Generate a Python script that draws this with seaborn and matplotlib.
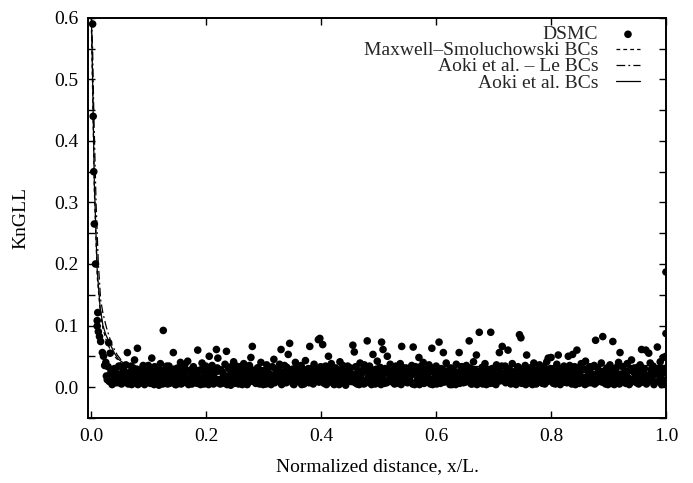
import matplotlib
matplotlib.use("Agg")
import matplotlib.pyplot as plt
import seaborn as sns
import pandas as pd
from matplotlib.ticker import MultipleLocator, FormatStrFormatter

# ---------------- data ----------------
# DSMC points close to the walls
wall_x = [0.002, 0.003, 0.004, 0.005, 0.007, 0.011, 0.010, 0.010, 0.012, 0.014,
          0.016, 0.019, 0.021, 0.023, 1.0, 1.0]
wall_y = [0.59, 0.44, 0.35, 0.265, 0.20, 0.121, 0.108, 0.099, 0.090, 0.082,
          0.074, 0.056, 0.050, 0.035, 0.187, 0.050]

# DSMC points in the bulk (first set)
bulk_x = [
    0.025, 0.0275, 0.03, 0.0325, 0.035, 0.0375, 0.04, 0.0425, 0.045, 0.0475,
    0.05, 0.0525, 0.055, 0.0575, 0.06, 0.0625, 0.065, 0.0675, 0.07, 0.0725,
    0.075, 0.0775, 0.08, 0.0825, 0.085, 0.0875, 0.09, 0.0925, 0.095, 0.0975,
    0.1, 0.1025, 0.105, 0.1075, 0.11, 0.1125, 0.115, 0.1175, 0.12, 0.1225,
    0.125, 0.1275, 0.13, 0.1325, 0.135, 0.1375, 0.14, 0.1425, 0.145, 0.1475,
    0.15, 0.1525, 0.155, 0.1575, 0.16, 0.1625, 0.165, 0.1675, 0.17, 0.1725,
    0.175, 0.1775, 0.18, 0.1825, 0.185, 0.1875, 0.19, 0.1925, 0.195, 0.1975,
    0.2, 0.2025, 0.205, 0.2075, 0.21, 0.2125, 0.215, 0.2175, 0.22, 0.2225,
    0.225, 0.2275, 0.23, 0.2325, 0.235, 0.2375, 0.24, 0.2425, 0.245, 0.2475,
    0.25, 0.2525, 0.255, 0.2575, 0.26, 0.2625, 0.265, 0.2675, 0.27, 0.2725,
    0.275, 0.2775, 0.28, 0.2825, 0.285, 0.2875, 0.29, 0.2925, 0.295, 0.2975,
    0.3, 0.3025, 0.305, 0.3075, 0.31, 0.3125, 0.315, 0.3175, 0.32, 0.3225,
    0.325, 0.3275, 0.33, 0.3325, 0.335, 0.3375, 0.34, 0.3425, 0.345, 0.3475,
    0.35, 0.3525, 0.355, 0.3575, 0.36, 0.3625, 0.365, 0.3675, 0.37, 0.3725,
    0.375, 0.3775, 0.38, 0.3825, 0.385, 0.3875, 0.39, 0.3925, 0.395, 0.3975,
    0.4, 0.4025, 0.405, 0.4075, 0.41, 0.4125, 0.415, 0.4175, 0.42, 0.4225,
    0.425, 0.4275, 0.43, 0.4325, 0.435, 0.4375, 0.44, 0.4425, 0.445, 0.4475,
    0.45, 0.4525, 0.455, 0.4575, 0.46, 0.4625, 0.465, 0.4675, 0.47, 0.4725,
    0.475, 0.4775, 0.48, 0.4825, 0.485, 0.4875, 0.49, 0.4925, 0.495, 0.4975,
    0.5, 0.5025, 0.505, 0.5075, 0.51, 0.5125, 0.515, 0.5175, 0.52, 0.5225,
    0.525, 0.5275, 0.53, 0.5325, 0.535, 0.5375, 0.54, 0.5425, 0.545, 0.5475,
    0.55, 0.5525, 0.555, 0.5575, 0.56, 0.5625, 0.565, 0.5675, 0.57, 0.5725,
    0.575, 0.5775, 0.58, 0.5825, 0.585, 0.5875, 0.59, 0.5925, 0.595, 0.5975,
    0.6, 0.6025, 0.605, 0.6075, 0.61, 0.6125, 0.615, 0.6175, 0.62, 0.6225,
    0.625, 0.6275, 0.63, 0.6325, 0.635, 0.6375, 0.64, 0.6425, 0.645, 0.6475,
    0.65, 0.6525, 0.655, 0.6575, 0.66, 0.6625, 0.665, 0.6675, 0.67, 0.6725,
    0.675, 0.6775, 0.68, 0.6825, 0.685, 0.6875, 0.69, 0.6925, 0.695, 0.6975,
    0.7, 0.7025, 0.705, 0.7075, 0.71, 0.7125, 0.715, 0.7175, 0.72, 0.7225,
    0.725, 0.7275, 0.73, 0.7325, 0.735, 0.7375, 0.74, 0.7425, 0.745, 0.7475,
    0.75, 0.7525, 0.755, 0.7575, 0.76, 0.7625, 0.765, 0.7675, 0.77, 0.7725,
    0.775, 0.7775, 0.78, 0.7825, 0.785, 0.7875, 0.79, 0.7925, 0.795, 0.7975,
    0.8, 0.8025, 0.805, 0.8075, 0.81, 0.8125, 0.815, 0.8175, 0.82, 0.8225,
    0.825, 0.8275, 0.83, 0.8325, 0.835, 0.8375, 0.84, 0.8425, 0.845, 0.8475,
    0.85, 0.8525, 0.855, 0.8575, 0.86, 0.8625, 0.865, 0.8675, 0.87, 0.8725,
    0.875, 0.8775, 0.88, 0.8825, 0.885, 0.8875, 0.89, 0.8925, 0.895, 0.8975,
    0.9, 0.9025, 0.905, 0.9075, 0.91, 0.9125, 0.915, 0.9175, 0.92, 0.9225,
    0.925, 0.9275, 0.93, 0.9325, 0.935, 0.9375, 0.94, 0.9425, 0.945, 0.9475,
    0.95, 0.9525, 0.955, 0.9575, 0.96, 0.9625, 0.965, 0.9675, 0.97, 0.9725,
    0.975, 0.9775, 0.98, 0.9825, 0.985, 0.9875, 0.99, 0.9925, 0.995, 0.9975,
    1.0,
]
bulk_y = [
    0.040, 0.012, 0.072, 0.055, 0.022, 0.006, 0.030, 0.016, 0.008, 0.034,
    0.020, 0.005, 0.028, 0.012, 0.036, 0.056, 0.009, 0.024, 0.004, 0.031,
    0.044, 0.018, 0.063, 0.007, 0.026, 0.013, 0.035, 0.004, 0.021, 0.010,
    0.029, 0.006, 0.047, 0.017, 0.033, 0.008, 0.024, 0.003, 0.038, 0.014,
    0.092, 0.011, 0.027, 0.005, 0.034, 0.019, 0.009, 0.056, 0.023, 0.004,
    0.031, 0.013, 0.040, 0.006, 0.022, 0.036, 0.008, 0.042, 0.015, 0.026,
    0.005, 0.033, 0.018, 0.010, 0.060, 0.027, 0.004, 0.039, 0.014, 0.021,
    0.030, 0.008, 0.050, 0.016, 0.035, 0.005, 0.024, 0.061, 0.047, 0.012,
    0.028, 0.006, 0.019, 0.037, 0.058, 0.010, 0.032, 0.003, 0.022, 0.041,
    0.013, 0.034, 0.007, 0.025, 0.018, 0.004, 0.038, 0.011, 0.029, 0.020,
    0.035, 0.048, 0.066, 0.009, 0.023, 0.014, 0.031, 0.005, 0.040, 0.017,
    0.026, 0.008, 0.036, 0.012, 0.021, 0.004, 0.033, 0.045, 0.015, 0.028,
    0.010, 0.037, 0.061, 0.006, 0.024, 0.018, 0.032, 0.053, 0.071, 0.013,
    0.029, 0.004, 0.040, 0.016, 0.027, 0.009, 0.035, 0.020, 0.005, 0.043,
    0.014, 0.030, 0.066, 0.008, 0.025, 0.037, 0.011, 0.019, 0.077, 0.079,
    0.028, 0.069, 0.006, 0.034, 0.017, 0.050, 0.010, 0.038, 0.022, 0.004,
    0.031, 0.013, 0.026, 0.041, 0.007, 0.035, 0.019, 0.003, 0.029, 0.015,
    0.024, 0.009, 0.068, 0.057, 0.033, 0.005, 0.020, 0.039, 0.012, 0.027,
    0.036, 0.010, 0.075, 0.018, 0.030, 0.004, 0.053, 0.023, 0.008, 0.042,
    0.015, 0.032, 0.073, 0.061, 0.006, 0.026, 0.050, 0.011, 0.037, 0.020,
    0.029, 0.005, 0.034, 0.017, 0.009, 0.038, 0.066, 0.022, 0.013, 0.031,
    0.007, 0.027, 0.019, 0.035, 0.065, 0.004, 0.024, 0.012, 0.048, 0.033,
    0.016, 0.040, 0.008, 0.029, 0.021, 0.036, 0.005, 0.063, 0.025, 0.011,
    0.034, 0.014, 0.073, 0.006, 0.028, 0.056, 0.019, 0.039, 0.009, 0.023,
    0.031, 0.004, 0.026, 0.017, 0.037, 0.010, 0.056, 0.022, 0.033, 0.007,
    0.020, 0.035, 0.012, 0.075, 0.028, 0.005, 0.041, 0.016, 0.052, 0.025,
    0.089, 0.009, 0.032, 0.018, 0.038, 0.004, 0.024, 0.013, 0.089, 0.030,
    0.006, 0.027, 0.036, 0.015, 0.056, 0.021, 0.066, 0.010, 0.034, 0.019,
    0.060, 0.029, 0.005, 0.038, 0.016, 0.024, 0.011, 0.033, 0.085, 0.080,
    0.020, 0.008, 0.035, 0.052, 0.026, 0.013, 0.031, 0.004, 0.039, 0.018,
    0.027, 0.010, 0.036, 0.021, 0.006, 0.032, 0.015, 0.041, 0.047, 0.024,
    0.048, 0.012, 0.030, 0.005, 0.037, 0.052, 0.019, 0.028, 0.009, 0.034,
    0.022, 0.007, 0.050, 0.035, 0.014, 0.053, 0.026, 0.004, 0.060, 0.031,
    0.017, 0.038, 0.010, 0.029, 0.042, 0.006, 0.024, 0.033, 0.013, 0.020,
    0.035, 0.076, 0.008, 0.027, 0.016, 0.039, 0.082, 0.022, 0.005, 0.031,
    0.012, 0.036, 0.025, 0.074, 0.004, 0.029, 0.018, 0.040, 0.056, 0.010,
    0.033, 0.021, 0.006, 0.038, 0.014, 0.027, 0.044, 0.009, 0.031, 0.017,
    0.025, 0.005, 0.036, 0.061, 0.019, 0.030, 0.060, 0.011, 0.055, 0.039,
    0.015, 0.034, 0.008, 0.027, 0.065, 0.022, 0.041, 0.004, 0.048, 0.030,
    0.087,
]

# DSMC points in the bulk (second, interleaved set)
bulk2_x = [
    0.026, 0.029, 0.031, 0.034, 0.036, 0.039, 0.041, 0.044, 0.046, 0.049,
    0.051, 0.054, 0.056, 0.059, 0.061, 0.064, 0.066, 0.069, 0.071, 0.074,
    0.076, 0.079, 0.081, 0.084, 0.086, 0.089, 0.091, 0.094, 0.096, 0.099,
    0.101, 0.104, 0.106, 0.109, 0.111, 0.114, 0.116, 0.119, 0.121, 0.124,
    0.126, 0.129, 0.131, 0.134, 0.136, 0.139, 0.141, 0.144, 0.146, 0.149,
    0.151, 0.154, 0.156, 0.159, 0.161, 0.164, 0.166, 0.169, 0.171, 0.174,
    0.176, 0.179, 0.181, 0.184, 0.186, 0.189, 0.191, 0.194, 0.196, 0.199,
    0.201, 0.204, 0.206, 0.209, 0.211, 0.214, 0.216, 0.219, 0.221, 0.224,
    0.226, 0.229, 0.231, 0.234, 0.236, 0.239, 0.241, 0.244, 0.246, 0.249,
    0.251, 0.254, 0.256, 0.259, 0.261, 0.264, 0.266, 0.269, 0.271, 0.274,
    0.276, 0.279, 0.281, 0.284, 0.286, 0.289, 0.291, 0.294, 0.296, 0.299,
    0.301, 0.304, 0.306, 0.309, 0.311, 0.314, 0.316, 0.319, 0.321, 0.324,
    0.326, 0.329, 0.331, 0.334, 0.336, 0.339, 0.341, 0.344, 0.346, 0.349,
    0.351, 0.354, 0.356, 0.359, 0.361, 0.364, 0.366, 0.369, 0.371, 0.374,
    0.376, 0.379, 0.381, 0.384, 0.386, 0.389, 0.391, 0.394, 0.396, 0.399,
    0.401, 0.404, 0.406, 0.409, 0.411, 0.414, 0.416, 0.419, 0.421, 0.424,
    0.426, 0.429, 0.431, 0.434, 0.436, 0.439, 0.441, 0.444, 0.446, 0.449,
    0.451, 0.454, 0.456, 0.459, 0.461, 0.464, 0.466, 0.469, 0.471, 0.474,
    0.476, 0.479, 0.481, 0.484, 0.486, 0.489, 0.491, 0.494, 0.496, 0.499,
    0.501, 0.504, 0.506, 0.509, 0.511, 0.514, 0.516, 0.519, 0.521, 0.524,
    0.526, 0.529, 0.531, 0.534, 0.536, 0.539, 0.541, 0.544, 0.546, 0.549,
    0.551, 0.554, 0.556, 0.559, 0.561, 0.564, 0.566, 0.569, 0.571, 0.574,
    0.576, 0.579, 0.581, 0.584, 0.586, 0.589, 0.591, 0.594, 0.596, 0.599,
    0.601, 0.604, 0.606, 0.609, 0.611, 0.614, 0.616, 0.619, 0.621, 0.624,
    0.626, 0.629, 0.631, 0.634, 0.636, 0.639, 0.641, 0.644, 0.646, 0.649,
    0.651, 0.654, 0.656, 0.659, 0.661, 0.664, 0.666, 0.669, 0.671, 0.674,
    0.676, 0.679, 0.681, 0.684, 0.686, 0.689, 0.691, 0.694, 0.696, 0.699,
    0.701, 0.704, 0.706, 0.709, 0.711, 0.714, 0.716, 0.719, 0.721, 0.724,
    0.726, 0.729, 0.731, 0.734, 0.736, 0.739, 0.741, 0.744, 0.746, 0.749,
    0.751, 0.754, 0.756, 0.759, 0.761, 0.764, 0.766, 0.769, 0.771, 0.774,
    0.776, 0.779, 0.781, 0.784, 0.786, 0.789, 0.791, 0.794, 0.796, 0.799,
    0.801, 0.804, 0.806, 0.809, 0.811, 0.814, 0.816, 0.819, 0.821, 0.824,
    0.826, 0.829, 0.831, 0.834, 0.836, 0.839, 0.841, 0.844, 0.846, 0.849,
    0.851, 0.854, 0.856, 0.859, 0.861, 0.864, 0.866, 0.869, 0.871, 0.874,
    0.876, 0.879, 0.881, 0.884, 0.886, 0.889, 0.891, 0.894, 0.896, 0.899,
    0.901, 0.904, 0.906, 0.909, 0.911, 0.914, 0.916, 0.919, 0.921, 0.924,
    0.926, 0.929, 0.931, 0.934, 0.936, 0.939, 0.941, 0.944, 0.946, 0.949,
    0.951, 0.954, 0.956, 0.959, 0.961, 0.964, 0.966, 0.969, 0.971, 0.974,
    0.976, 0.979, 0.981, 0.984, 0.986, 0.989, 0.991, 0.994, 0.996, 0.999,
]
bulk2_y = [
    0.018, 0.033, 0.009, 0.025, 0.004, 0.014, 0.028, 0.007, 0.021, 0.012,
    0.006, 0.015, 0.032, 0.010, 0.023, 0.005, 0.017, 0.034, 0.008, 0.026,
    0.013, 0.029, 0.004, 0.019, 0.011, 0.031, 0.006, 0.024, 0.016, 0.035,
    0.009, 0.021, 0.014, 0.004, 0.030, 0.011, 0.018, 0.007, 0.027, 0.005,
    0.022, 0.008, 0.034, 0.013, 0.006, 0.025, 0.015, 0.029, 0.004, 0.018,
    0.010, 0.026, 0.005, 0.020, 0.032, 0.012, 0.027, 0.004, 0.016, 0.009,
    0.030, 0.014, 0.022, 0.006, 0.017, 0.009, 0.028, 0.012, 0.005, 0.034,
    0.019, 0.004, 0.027, 0.011, 0.021, 0.015, 0.007, 0.031, 0.026, 0.005,
    0.012, 0.023, 0.008, 0.016, 0.004, 0.030, 0.019, 0.010, 0.035, 0.006,
    0.026, 0.017, 0.005, 0.033, 0.012, 0.024, 0.008, 0.020, 0.004, 0.014,
    0.009, 0.028, 0.015, 0.022, 0.006, 0.031, 0.011, 0.018, 0.025, 0.004,
    0.016, 0.005, 0.024, 0.032, 0.009, 0.019, 0.013, 0.007, 0.028, 0.021,
    0.029, 0.011, 0.004, 0.018, 0.035, 0.007, 0.022, 0.015, 0.010, 0.026,
    0.005, 0.020, 0.031, 0.009, 0.014, 0.025, 0.004, 0.028, 0.017, 0.011,
    0.023, 0.007, 0.016, 0.030, 0.005, 0.012, 0.027, 0.021, 0.008, 0.033,
    0.013, 0.019, 0.026, 0.004, 0.022, 0.009, 0.031, 0.015, 0.006, 0.018,
    0.008, 0.024, 0.004, 0.017, 0.028, 0.012, 0.006, 0.021, 0.034, 0.010,
    0.031, 0.015, 0.020, 0.007, 0.011, 0.026, 0.004, 0.017, 0.023, 0.005,
    0.006, 0.027, 0.013, 0.034, 0.009, 0.019, 0.014, 0.005, 0.029, 0.016,
    0.024, 0.004, 0.018, 0.011, 0.030, 0.007, 0.022, 0.027, 0.013, 0.008,
    0.010, 0.020, 0.006, 0.025, 0.014, 0.004, 0.032, 0.009, 0.019, 0.028,
    0.017, 0.012, 0.029, 0.005, 0.021, 0.033, 0.008, 0.016, 0.004, 0.023,
    0.027, 0.006, 0.015, 0.020, 0.010, 0.025, 0.013, 0.004, 0.031, 0.018,
    0.005, 0.022, 0.011, 0.030, 0.017, 0.008, 0.026, 0.014, 0.021, 0.004,
    0.019, 0.028, 0.009, 0.004, 0.024, 0.015, 0.006, 0.033, 0.012, 0.025,
    0.008, 0.013, 0.024, 0.031, 0.005, 0.018, 0.010, 0.027, 0.004, 0.020,
    0.022, 0.016, 0.005, 0.012, 0.029, 0.008, 0.019, 0.006, 0.025, 0.014,
    0.030, 0.004, 0.020, 0.026, 0.010, 0.034, 0.013, 0.023, 0.007, 0.016,
    0.011, 0.018, 0.025, 0.007, 0.021, 0.004, 0.029, 0.015, 0.019, 0.006,
    0.028, 0.014, 0.004, 0.023, 0.009, 0.031, 0.017, 0.012, 0.026, 0.005,
    0.007, 0.025, 0.019, 0.013, 0.033, 0.005, 0.022, 0.009, 0.015, 0.030,
    0.021, 0.006, 0.027, 0.017, 0.011, 0.024, 0.004, 0.030, 0.014, 0.008,
    0.014, 0.030, 0.009, 0.022, 0.005, 0.018, 0.033, 0.012, 0.020, 0.006,
    0.026, 0.010, 0.016, 0.004, 0.028, 0.013, 0.021, 0.007, 0.032, 0.015,
    0.005, 0.020, 0.031, 0.012, 0.024, 0.008, 0.017, 0.027, 0.011, 0.004,
    0.023, 0.015, 0.006, 0.029, 0.018, 0.010, 0.034, 0.005, 0.021, 0.013,
    0.009, 0.026, 0.019, 0.014, 0.004, 0.030, 0.011, 0.024, 0.016, 0.007,
    0.032, 0.012, 0.022, 0.008, 0.027, 0.015, 0.005, 0.019, 0.010, 0.028,
    0.017, 0.004, 0.025, 0.021, 0.009, 0.031, 0.014, 0.006, 0.023, 0.011,
]

# model curves
ms_x = [0.0, 0.002, 0.005, 0.01, 0.015, 0.02, 0.025, 0.03, 0.04, 0.05, 0.06, 0.08,
        0.1, 0.2, 0.4, 0.6, 0.8, 1.0]
ms_y = [0.58, 0.48, 0.32, 0.18, 0.125, 0.095, 0.078, 0.066, 0.050, 0.040, 0.034,
        0.030, 0.029, 0.028, 0.028, 0.029, 0.029, 0.030]
le_x = [0.0, 0.002, 0.004, 0.008, 0.012, 0.016, 0.02, 0.026, 0.035, 0.045, 0.055,
        0.07, 0.09, 0.12, 0.2, 0.4, 0.6, 0.8, 1.0]
le_y = [0.60, 0.55, 0.45, 0.30, 0.20, 0.142, 0.12, 0.097, 0.070, 0.052, 0.040,
        0.031, 0.026, 0.024, 0.023, 0.023, 0.024, 0.024, 0.025]
ak_x = [0.0, 0.002, 0.005, 0.01, 0.015, 0.02, 0.025, 0.033, 0.04, 0.047, 0.059,
        0.07, 0.08, 0.1, 0.2, 0.4, 0.6, 0.8, 1.0]
ak_y = [0.60, 0.50, 0.33, 0.19, 0.13, 0.10, 0.085, 0.069, 0.055, 0.045, 0.037,
        0.034, 0.032, 0.031, 0.031, 0.032, 0.033, 0.034, 0.035]

labels = ["DSMC", "Maxwell\u2013Smoluchowski BCs", "Aoki et al. \u2013 Le BCs", "Aoki et al. BCs"]
xlabel = "Normalized distance, x/L."
ylabel = "KnGLL"

assert len(bulk_x) == len(bulk_y)
assert len(bulk2_x) == len(bulk2_y)

# ---------------- plot ----------------
sns.set_theme(style="ticks")
plt.rcParams['font.family'] = ['Liberation Serif', 'DejaVu Serif']

dsmc = pd.DataFrame({"x": wall_x + bulk_x + bulk2_x,
                     "y": wall_y + bulk_y + bulk2_y})

fig = plt.figure(figsize=(6.93, 4.83), dpi=100)
ax = fig.add_axes([0.127, 0.135, 0.834, 0.828])

sns.scatterplot(data=dsmc, x="x", y="y", ax=ax, color="black", s=30,
                edgecolor="none", linewidth=0, label=labels[0], zorder=2)
sns.lineplot(x=ms_x, y=ms_y, ax=ax, color="black", lw=0.9, sort=False,
             estimator=None, label=labels[1], zorder=3)
sns.lineplot(x=le_x, y=le_y, ax=ax, color="black", lw=0.9, sort=False,
             estimator=None, label=labels[2], zorder=3)
sns.lineplot(x=ak_x, y=ak_y, ax=ax, color="black", lw=0.9, sort=False,
             estimator=None, label=labels[3], zorder=3)
ax.lines[0].set_dashes((3, 2.5))
ax.lines[1].set_dashes((7, 2.5, 1.5, 2.5))

ax.set_xlim(-0.006, 1.0)
ax.set_ylim(-0.05, 0.6)
ax.xaxis.set_major_locator(MultipleLocator(0.2))
ax.yaxis.set_major_locator(MultipleLocator(0.1))
ax.yaxis.set_minor_locator(MultipleLocator(0.05))
ax.xaxis.set_major_formatter(FormatStrFormatter("%.1f"))
ax.yaxis.set_major_formatter(FormatStrFormatter("%.1f"))
ax.tick_params(which="both", direction="in", top=True, right=True,
               length=5, width=1, labelsize=14, color="black", labelcolor="black", pad=7)
for sp in ax.spines.values():
    sp.set_visible(True)
    sp.set_color("black")
    sp.set_linewidth(1.4)

ax.set_xlabel(xlabel, fontsize=14, color="black", labelpad=10)
ax.set_ylabel(ylabel, fontsize=14, color="black", labelpad=18)

h, l = ax.get_legend_handles_labels()
leg = ax.legend(h, l, loc="upper right", bbox_to_anchor=(0.962, 0.99),
                frameon=False, markerfirst=False, fontsize=14,
                handlelength=1.25, handletextpad=0.9,
                labelspacing=-0.08, borderaxespad=0.0, borderpad=0.2)
for t in leg.get_texts():
    t.set_ha("right")
leg._legend_box.align = "right"

fig.savefig("out.png", dpi=100, facecolor="white")
